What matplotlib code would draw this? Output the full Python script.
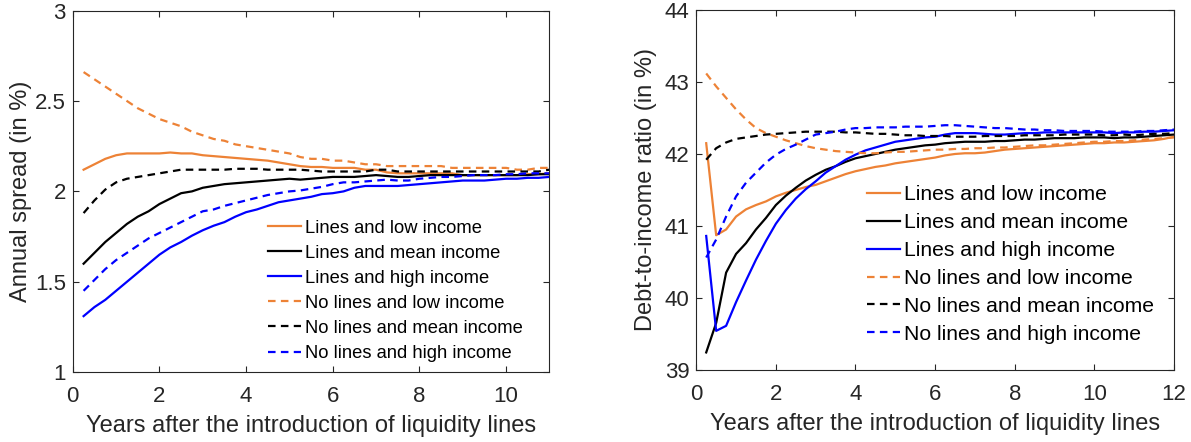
import numpy as np
import matplotlib
matplotlib.use("Agg")
import matplotlib.pyplot as plt

plt.rcParams['font.family'] = ['Liberation Sans', 'DejaVu Sans']

# quarterly horizon
x_spread = np.arange(1, 45) * 0.25
x_debt = np.arange(1, 49) * 0.25

# annual spread (in %), left panel
spread_lines_low = [2.12, 2.15, 2.18, 2.20, 2.21, 2.21, 2.21, 2.21, 2.215, 2.21, 2.21, 2.20,
                    2.195, 2.19, 2.185, 2.18, 2.175, 2.17, 2.16, 2.15, 2.14, 2.135, 2.135, 2.13,
                    2.13, 2.13, 2.12, 2.12, 2.105, 2.10, 2.10, 2.10, 2.10, 2.10, 2.10, 2.09,
                    2.09, 2.09, 2.09, 2.09, 2.09, 2.095, 2.095, 2.10]
spread_lines_mean = [1.60, 1.66, 1.72, 1.77, 1.82, 1.86, 1.89, 1.93, 1.96, 1.99, 2.00, 2.02,
                     2.03, 2.04, 2.045, 2.05, 2.055, 2.06, 2.065, 2.07, 2.065, 2.07, 2.075, 2.08,
                     2.08, 2.08, 2.085, 2.09, 2.085, 2.08, 2.08, 2.085, 2.09, 2.09, 2.09, 2.09,
                     2.09, 2.09, 2.09, 2.09, 2.09, 2.09, 2.095, 2.095]
spread_lines_high = [1.31, 1.36, 1.40, 1.45, 1.50, 1.55, 1.60, 1.65, 1.69, 1.72, 1.755, 1.785,
                     1.81, 1.83, 1.86, 1.885, 1.90, 1.92, 1.94, 1.95, 1.96, 1.97, 1.985, 1.99,
                     2.00, 2.02, 2.03, 2.03, 2.03, 2.03, 2.035, 2.04, 2.045, 2.05, 2.055, 2.06,
                     2.06, 2.06, 2.065, 2.07, 2.07, 2.075, 2.075, 2.08]
spread_nolines_low = [2.66, 2.62, 2.58, 2.54, 2.50, 2.46, 2.43, 2.40, 2.38, 2.36, 2.33, 2.31,
                      2.29, 2.28, 2.26, 2.25, 2.24, 2.23, 2.22, 2.21, 2.19, 2.18, 2.18, 2.17,
                      2.17, 2.16, 2.15, 2.15, 2.14, 2.14, 2.14, 2.14, 2.14, 2.14, 2.13, 2.13,
                      2.13, 2.13, 2.13, 2.13, 2.12, 2.12, 2.13, 2.13]
spread_nolines_mean = [1.88, 1.95, 2.01, 2.05, 2.07, 2.08, 2.09, 2.10, 2.11, 2.12, 2.12, 2.12,
                       2.12, 2.12, 2.125, 2.125, 2.125, 2.12, 2.12, 2.12, 2.12, 2.115, 2.11, 2.11,
                       2.11, 2.11, 2.11, 2.12, 2.12, 2.11, 2.11, 2.11, 2.11, 2.11, 2.11, 2.11,
                       2.11, 2.11, 2.11, 2.11, 2.11, 2.11, 2.11, 2.12]
spread_nolines_high = [1.45, 1.51, 1.57, 1.62, 1.66, 1.70, 1.74, 1.77, 1.80, 1.83, 1.86, 1.89,
                       1.90, 1.92, 1.935, 1.95, 1.965, 1.98, 1.99, 2.00, 2.005, 2.015, 2.025, 2.04,
                       2.05, 2.05, 2.055, 2.06, 2.065, 2.06, 2.06, 2.07, 2.075, 2.08, 2.08, 2.085,
                       2.09, 2.09, 2.09, 2.095, 2.095, 2.10, 2.10, 2.10]

# debt-to-income ratio (in %), right panel
debt_lines_low = [42.15, 40.87, 40.95, 41.13, 41.23, 41.29, 41.34, 41.41, 41.46, 41.50, 41.54, 41.57,
                  41.62, 41.67, 41.72, 41.76, 41.79, 41.82, 41.84, 41.87, 41.89, 41.91, 41.93, 41.95,
                  41.98, 42.00, 42.01, 42.01, 42.02, 42.04, 42.06, 42.07, 42.08, 42.09, 42.10, 42.11,
                  42.12, 42.13, 42.14, 42.15, 42.15, 42.16, 42.16, 42.17, 42.18, 42.19, 42.21, 42.24]
debt_lines_mean = [39.24, 39.65, 40.35, 40.61, 40.76, 40.95, 41.11, 41.29, 41.42, 41.53, 41.63, 41.71,
                   41.78, 41.83, 41.89, 41.94, 41.97, 42.00, 42.03, 42.06, 42.08, 42.10, 42.12, 42.13,
                   42.15, 42.16, 42.17, 42.17, 42.17, 42.18, 42.18, 42.19, 42.20, 42.20, 42.21, 42.22,
                   42.22, 42.22, 42.23, 42.23, 42.23, 42.22, 42.23, 42.23, 42.24, 42.25, 42.26, 42.27]
debt_lines_high = [40.86, 39.54, 39.61, 39.94, 40.24, 40.53, 40.79, 41.03, 41.22, 41.38, 41.51, 41.62,
                   41.74, 41.83, 41.92, 41.99, 42.05, 42.09, 42.13, 42.17, 42.19, 42.21, 42.23, 42.24,
                   42.27, 42.29, 42.29, 42.29, 42.28, 42.27, 42.27, 42.28, 42.29, 42.29, 42.30, 42.30,
                   42.30, 42.30, 42.30, 42.30, 42.30, 42.29, 42.30, 42.30, 42.31, 42.31, 42.32, 42.33]
debt_nolines_low = [43.12, 42.94, 42.78, 42.62, 42.48, 42.36, 42.29, 42.24, 42.19, 42.15, 42.11, 42.08,
                    42.06, 42.04, 42.03, 42.02, 42.01, 42.01, 42.02, 42.03, 42.03, 42.04, 42.05, 42.06,
                    42.06, 42.07, 42.07, 42.08, 42.08, 42.09, 42.09, 42.10, 42.11, 42.12, 42.12, 42.13,
                    42.14, 42.15, 42.16, 42.17, 42.17, 42.18, 42.18, 42.19, 42.20, 42.21, 42.22, 42.23]
debt_nolines_mean = [41.92, 42.08, 42.16, 42.21, 42.23, 42.25, 42.27, 42.28, 42.29, 42.30, 42.31, 42.31,
                     42.31, 42.31, 42.30, 42.30, 42.29, 42.28, 42.28, 42.27, 42.26, 42.26, 42.25, 42.25,
                     42.25, 42.24, 42.24, 42.24, 42.25, 42.25, 42.25, 42.25, 42.26, 42.26, 42.26, 42.26,
                     42.27, 42.27, 42.27, 42.27, 42.26, 42.26, 42.27, 42.26, 42.27, 42.28, 42.28, 42.29]
debt_nolines_high = [40.56, 40.81, 41.13, 41.41, 41.60, 41.74, 41.88, 41.99, 42.07, 42.13, 42.20, 42.27,
                     42.29, 42.31, 42.34, 42.36, 42.36, 42.37, 42.37, 42.37, 42.38, 42.38, 42.38, 42.39,
                     42.40, 42.40, 42.39, 42.38, 42.37, 42.36, 42.36, 42.35, 42.34, 42.34, 42.33, 42.33,
                     42.32, 42.32, 42.32, 42.32, 42.31, 42.31, 42.31, 42.31, 42.32, 42.32, 42.33, 42.34]

labels = ['Lines and low income', 'Lines and mean income', 'Lines and high income',
          'No lines and low income', 'No lines and mean income', 'No lines and high income']

orange = '#ED8236'
black = '#000000'
blue = '#0000FF'
colors = [orange, black, blue, orange, black, blue]
axcol = '#262626'


def style_axis(ax):
    for sp in ax.spines.values():
        sp.set_color(axcol)
        sp.set_linewidth(0.8)
    ax.tick_params(direction='in', top=True, right=True, length=4, width=0.8,
                   colors=axcol, labelsize=16, labelcolor=axcol)
    ax.tick_params(axis='x', pad=10)
    ax.tick_params(axis='y', pad=5)


fig = plt.figure(figsize=(11.91, 4.42), dpi=100)
ax1 = fig.add_axes([0.0611, 0.158, 0.4002, 0.818])
ax2 = fig.add_axes([0.5846, 0.1636, 0.4011, 0.8134])

left_series = [spread_lines_low, spread_lines_mean, spread_lines_high,
               spread_nolines_low, spread_nolines_mean, spread_nolines_high]
right_series = [debt_lines_low, debt_lines_mean, debt_lines_high,
                debt_nolines_low, debt_nolines_mean, debt_nolines_high]

for ax, xs, series in [(ax1, x_spread, left_series), (ax2, x_debt, right_series)]:
    for i, (ys, lab, c) in enumerate(zip(series, labels, colors)):
        if i < 3:
            ax.plot(xs, ys, color=c, lw=1.6, label=lab)
        else:
            ax.plot(xs, ys, color=c, lw=1.6, label=lab, dashes=(3.4, 2.4))
    style_axis(ax)
    ax.set_xlabel('Years after the introduction of liquidity lines', fontsize=17, color=axcol, labelpad=6)

ax1.set_xlim(0, 11)
ax1.set_ylim(1, 3)
ax1.set_xticks([0, 2, 4, 6, 8, 10])
ax1.set_yticks([1, 1.5, 2, 2.5, 3])
ax1.set_yticklabels(['1', '1.5', '2', '2.5', '3'])
ax1.set_ylabel('Annual spread (in %)', fontsize=17, color=axcol, labelpad=2)
ax1.legend(loc='upper left', bbox_to_anchor=(0.2250, 0.5032), bbox_transform=fig.transFigure,
           frameon=False, fontsize=13.2, borderpad=0, borderaxespad=0,
           handlelength=1.8, handletextpad=0.22, labelspacing=0.44)

ax2.set_xlim(0, 12)
ax2.set_ylim(39, 44)
ax2.set_xticks([0, 2, 4, 6, 8, 10, 12])
ax2.set_yticks([39, 40, 41, 42, 43, 44])
ax2.set_ylabel('Debt-to-income ratio (in %)', fontsize=17, color=axcol, labelpad=5)
ax2.legend(loc='upper left', bbox_to_anchor=(0.7277, 0.5805), bbox_transform=fig.transFigure,
           frameon=False, fontsize=15.2, borderpad=0, borderaxespad=0,
           handlelength=1.6, handletextpad=0.15, labelspacing=0.42)

fig.savefig('out.png', dpi=100)
